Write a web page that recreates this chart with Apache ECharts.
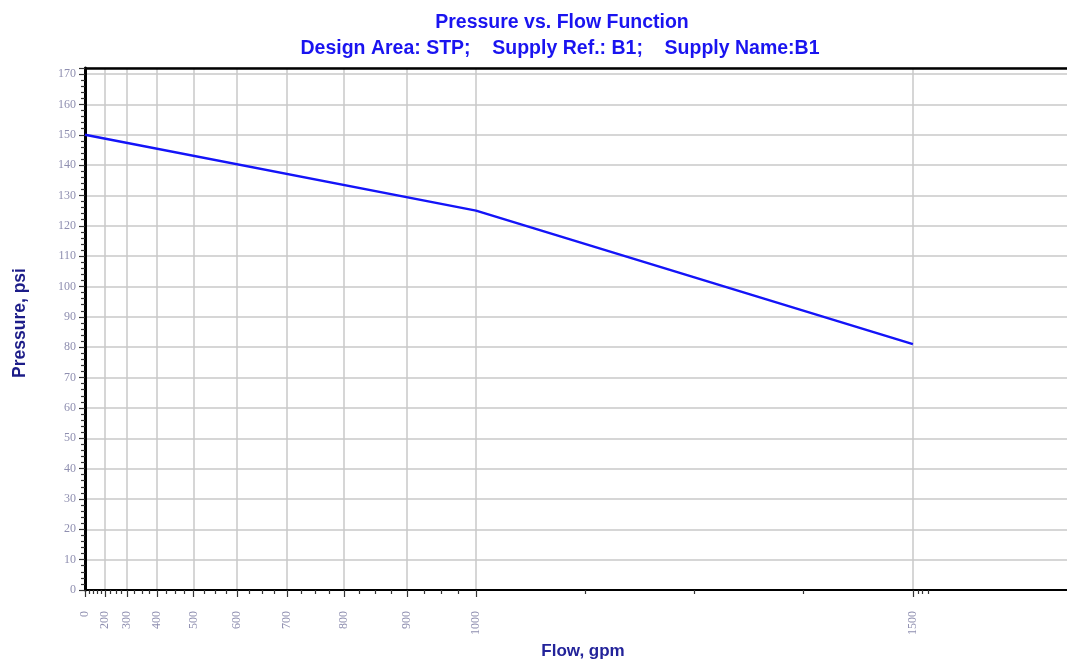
<!DOCTYPE html>
<html>
<head>
<meta charset="utf-8">
<script src="https://cdn.jsdelivr.net/npm/echarts@6/dist/echarts.min.js"></script>
<style>html,body{margin:0;padding:0;background:#fff}#c{width:1067px;height:660px}</style>
</head>
<body>
<div id="c"></div>
<script>
// ---- data ----
const titleText = 'Pressure vs. Flow Function';
const subtitleText = 'Design Area: STP;    Supply Ref.: B1;    Supply Name:B1';
const xName = 'Flow, gpm';
const yName = 'Pressure, psi';
const flows = [0, 1000, 1500];
const pressures = [150, 125, 81];
const xTickFlows = [0, 200, 300, 400, 500, 600, 700, 800, 900, 1000, 1500];
const xTickLabels = ['0', '200', '300', '400', '500', '600', '700', '800', '900', '1000', '1500'];
const xMaxFlow = 1645;
const yMin = 0, yMax = 172, yStep = 10;

// N^1.85 hydraulic scale
const EXP = 1.85;
const T = q => 1000 * Math.pow(q / 1000, EXP);

const majorT = xTickFlows.map(T);
const minorT = [];
for (let i = 0; i < majorT.length - 1; i++) {
  const parts = i === 0 ? 5 : 4;
  for (let k = 1; k < parts; k++) minorT.push(majorT[i] + (majorT[i + 1] - majorT[i]) * k / parts);
}
[1505, 1509, 1515].forEach(q => minorT.push(T(q)));
const labelMap = {};
majorT.forEach((t, i) => { labelMap[t.toFixed(4)] = xTickLabels[i]; });

const lineData = flows.map((q, i) => [T(q), pressures[i]]);

const chart = echarts.init(document.getElementById('c'), null, {renderer: 'canvas'});
const xMin = 0, xMax = T(xMaxFlow);
const labelFont = {fontFamily: 'Liberation Serif', fontSize: 12, color: '#8f8fb0'};

chart.setOption({
  animation: false,
  backgroundColor: '#fff',
  title: [
    {text: titleText, left: 557, top: 8, textAlign: 'center',
     textStyle: {fontFamily: 'Liberation Sans', fontWeight: 'bold', fontSize: 19.5, color: '#1a14f0'}},
    {text: subtitleText, left: 555, top: 34, textAlign: 'center',
     textStyle: {fontFamily: 'Liberation Sans', fontWeight: 'bold', fontSize: 19.5, color: '#1a14f0', whiteSpace: 'pre'}}
  ],
  grid: {left: 85, right: 0, top: 68, bottom: 70, containLabel: false, outerBoundsMode: 'none'},
  xAxis: [
    {
      type: 'value', position: 'bottom', min: xMin, max: xMax,
      name: xName, nameLocation: 'middle', nameGap: 52,
      nameTextStyle: {fontFamily: 'Liberation Sans', fontWeight: 'bold', fontSize: 17, color: '#23239a', padding: [0, 0, 0, 14]},
      axisLine: {show: true, lineStyle: {color: '#000', width: 2}},
      axisTick: {show: true, customValues: majorT, length: 7, lineStyle: {color: '#333', width: 1.2}},
      axisLabel: {show: true, customValues: majorT, rotate: 90, margin: 21,
        formatter: v => labelMap[v.toFixed(4)] || '', ...labelFont},
      splitLine: {show: true, lineStyle: {color: '#c8c8c8', width: 1.5}}
    },
    {
      type: 'value', position: 'bottom', min: xMin, max: xMax,
      axisLine: {show: false},
      axisTick: {show: true, customValues: minorT, length: 4, lineStyle: {color: '#333', width: 1.2}},
      axisLabel: {show: false},
      splitLine: {show: false}
    },
    {
      type: 'value', position: 'top', min: xMin, max: xMax,
      axisLine: {show: true, lineStyle: {color: '#000', width: 2.5}},
      axisTick: {show: false}, axisLabel: {show: false}, splitLine: {show: false}
    }
  ],
  yAxis: {
    type: 'value', min: yMin, max: yMax, interval: yStep,
    name: yName, nameLocation: 'middle', nameGap: 56, nameRotate: 90,
    nameTextStyle: {fontFamily: 'Liberation Sans', fontWeight: 'bold', fontSize: 17.5, color: '#1c1c88', padding: [0, 0, 0, 12]},
    axisLine: {show: true, lineStyle: {color: '#000', width: 3}},
    axisTick: {show: true, length: 6, lineStyle: {color: '#333', width: 1.2}},
    minorTick: {show: true, splitNumber: 5, length: 4, lineStyle: {color: '#333', width: 1.2}},
    axisLabel: {margin: 9, formatter: v => (v % 10 === 0 ? String(v) : ''), ...labelFont},
    splitLine: {show: true, lineStyle: {color: '#c8c8c8', width: 1.5}}
  },
  series: [{
    type: 'line', xAxisIndex: 0, data: lineData, showSymbol: false,
    lineStyle: {color: '#1414f8', width: 2.5}
  }]
});
</script>
</body>
</html>
